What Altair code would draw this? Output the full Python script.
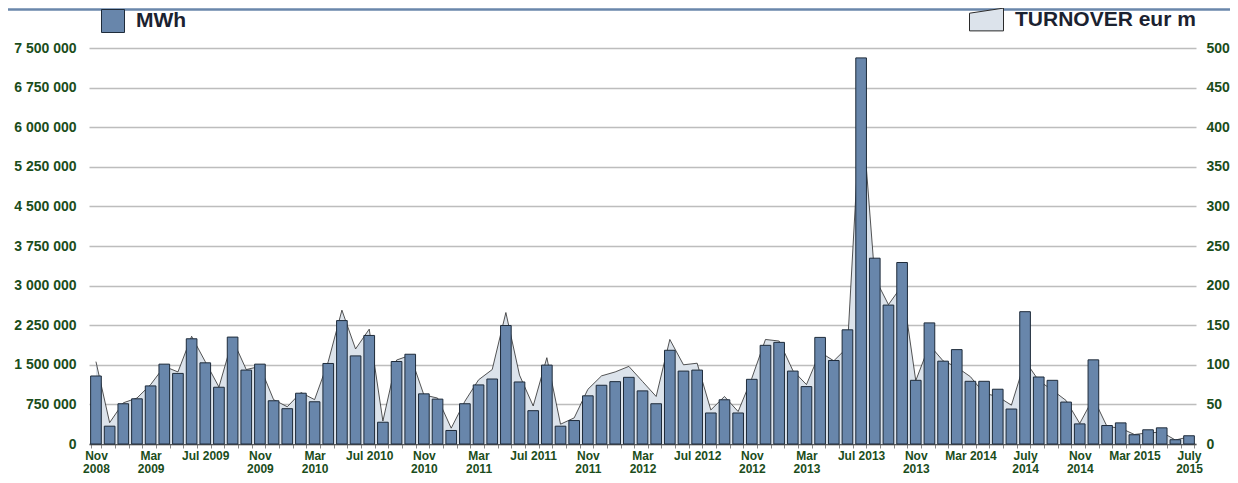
import altair as alt
import pandas as pd

months = [
    "Nov 2008", "Dec 2008",
    "Jan 2009", "Feb 2009", "Mar 2009", "Apr 2009", "May 2009", "Jun 2009",
    "Jul 2009", "Aug 2009", "Sep 2009", "Oct 2009", "Nov 2009", "Dec 2009",
    "Jan 2010", "Feb 2010", "Mar 2010", "Apr 2010", "May 2010", "Jun 2010",
    "Jul 2010", "Aug 2010", "Sep 2010", "Oct 2010", "Nov 2010", "Dec 2010",
    "Jan 2011", "Feb 2011", "Mar 2011", "Apr 2011", "May 2011", "Jun 2011",
    "Jul 2011", "Aug 2011", "Sep 2011", "Oct 2011", "Nov 2011", "Dec 2011",
    "Jan 2012", "Feb 2012", "Mar 2012", "Apr 2012", "May 2012", "Jun 2012",
    "Jul 2012", "Aug 2012", "Sep 2012", "Oct 2012", "Nov 2012", "Dec 2012",
    "Jan 2013", "Feb 2013", "Mar 2013", "Apr 2013", "May 2013", "Jun 2013",
    "Jul 2013", "Aug 2013", "Sep 2013", "Oct 2013", "Nov 2013", "Dec 2013",
    "Jan 2014", "Feb 2014", "Mar 2014", "Apr 2014", "May 2014", "Jun 2014",
    "Jul 2014", "Aug 2014", "Sep 2014", "Oct 2014", "Nov 2014", "Dec 2014",
    "Jan 2015", "Feb 2015", "Mar 2015", "Apr 2015", "May 2015", "Jun 2015",
    "Jul 2015",
]

mwh = [
    1288000, 337500,
    762500, 856000, 1100000, 1512500, 1337000, 1993000,
    1537500, 1075000, 2025000, 1400000, 1512500, 819000,
    669000, 962000, 800000, 1525000, 2337500, 1669000,
    2056000, 412500, 1562500, 1700000, 950000, 850000,
    256000, 762500, 1119000, 1231000, 2244000, 1175000,
    631000, 1494000, 337500, 444000, 912500, 1112500,
    1181000, 1262500, 1006000, 762500, 1775000, 1381000,
    1400000, 587500, 837500, 587500, 1225000, 1869000,
    1925000, 1381000, 1087500, 2019000, 1581000, 2162500,
    7312500, 3519000, 2631000, 3437500, 1206000, 2294000,
    1569000, 1787500, 1187500, 1187500, 1037500, 662500,
    2506000, 1269000, 1206000, 794000, 381000, 1594000,
    350000, 400000, 175000, 269000, 306000, 81000,
    156000,
]

turnover = [
    104, 27,
    52, 58, 75, 98, 91, 136,
    104, 72, 132, 94, 98, 56,
    47, 65, 56, 104, 169, 120,
    145, 29, 106, 112, 62, 58,
    20, 54, 81, 94, 166, 87,
    48, 109, 25, 33, 69, 86,
    91, 98, 79, 60, 132, 100,
    102, 43, 60, 41, 83, 132,
    130, 93, 75, 116, 105, 122,
    435, 210, 176, 200, 80, 125,
    105, 97, 85, 64, 60, 49,
    105, 80, 68, 55, 26, 58,
    22, 20, 12, 14, 15, 5,
    9,
]

tick_labels = {
    "Nov 2008": "Nov|2008", "Mar 2009": "Mar|2009", "Jul 2009": "Jul 2009",
    "Nov 2009": "Nov|2009", "Mar 2010": "Mar|2010", "Jul 2010": "Jul 2010",
    "Nov 2010": "Nov|2010", "Mar 2011": "Mar|2011", "Jul 2011": "Jul 2011",
    "Nov 2011": "Nov|2011", "Mar 2012": "Mar|2012", "Jul 2012": "Jul 2012",
    "Nov 2012": "Nov|2012", "Mar 2013": "Mar|2013", "Jul 2013": "Jul 2013",
    "Nov 2013": "Nov|2013", "Mar 2014": "Mar 2014", "Jul 2014": "July|2014",
    "Nov 2014": "Nov|2014", "Mar 2015": "Mar 2015", "Jul 2015": "July|2015",
}

bar_series = "MWh"
area_series = "TURNOVER eur m"

df = pd.DataFrame({
    "month": months,
    "mwh": mwh,
    "turnover": turnover,
    "s1": bar_series,
    "s2": area_series,
})

FONT = "Liberation Sans"
GREEN = "#1b4d1b"
BAR_FILL = "#6886ab"
BAR_STROKE = "#1e2b3a"
AREA_FILL = "#dce3eb"

expr = "''"
for k in reversed(list(tick_labels.keys())):
    expr = f"datum.value == '{k}' ? split('{tick_labels[k]}', '|') : ({expr})"

x_enc = alt.X(
    "month:O",
    sort=months,
    scale=alt.Scale(paddingInner=0.22, paddingOuter=0.12),
    axis=alt.Axis(
        title=None,
        labelExpr=expr,
        labelAngle=0,
        labelFont=FONT,
        labelFontSize=12,
        labelFontWeight="bold",
        labelColor=GREEN,
        labelLineHeight=13,
        labelPadding=2,
        labelOverlap=False,
        labelBound=False,
        tickBand="extent",
        tickSize=4,
        tickColor="#8a8a8a",
        domainColor="#555555",
        domainWidth=1.5,
        grid=False,
    ),
)

left_vals = [i * 750000 for i in range(11)]
right_vals = [i * 50 for i in range(11)]

area = alt.Chart(df).mark_area(opacity=1).encode(
    x=x_enc,
    y=alt.Y(
        "turnover:Q",
        scale=alt.Scale(domain=[0, 500], nice=False),
        axis=alt.Axis(
            orient="right",
            title=None,
            values=right_vals,
            grid=False,
            ticks=False,
            domain=False,
            labelFont=FONT,
            labelFontSize=14,
            labelFontWeight="bold",
            labelColor=GREEN,
            labelPadding=10,
        ),
    ),
    fill=alt.Fill(
        "s2:N",
        scale=alt.Scale(domain=[area_series], range=[AREA_FILL]),
        legend=alt.Legend(
            orient="none",
            legendX=880,
            legendY=-46,
            title=None,
            padding=0,
            symbolType="M-1,-0.37L1,-0.67L1,0.67L-1,0.67Z",
            symbolSize=1156,
            symbolStrokeColor="#2a2a2a",
            symbolStrokeWidth=1,
            labelOffset=11,
            labelFont=FONT,
            labelFontSize=21,
            labelFontWeight="bold",
            labelColor="#1b2230",
            labelLimit=400,
        ),
    ),
)

line = alt.Chart(df).mark_line(color="#2a2a2a", strokeWidth=0.8).encode(
    x=x_enc,
    y=alt.Y("turnover:Q", scale=alt.Scale(domain=[0, 500], nice=False), axis=None),
)

bars = alt.Chart(df).mark_bar(stroke=BAR_STROKE, strokeWidth=1).encode(
    x=x_enc,
    y=alt.Y(
        "mwh:Q",
        scale=alt.Scale(domain=[0, 7500000], nice=False),
        axis=alt.Axis(
            orient="left",
            title=None,
            values=left_vals,
            labelExpr="replace(format(datum.value, ','), regexp(',', 'g'), ' ')",
            grid=True,
            gridColor="#bdbdbd",
            gridWidth=1.5,
            ticks=False,
            domain=False,
            labelFont=FONT,
            labelFontSize=14,
            labelFontWeight="bold",
            labelColor=GREEN,
            labelPadding=13,
        ),
    ),
    color=alt.Color(
        "s1:N",
        scale=alt.Scale(domain=[bar_series], range=[BAR_FILL]),
        legend=alt.Legend(
            orient="none",
            legendX=12,
            legendY=-39,
            title=None,
            padding=0,
            symbolType="square",
            symbolSize=529,
            symbolStrokeColor=BAR_STROKE,
            symbolStrokeWidth=1,
            labelOffset=11,
            labelFont=FONT,
            labelFontSize=21,
            labelFontWeight="bold",
            labelColor="#1b2230",
        ),
    ),
)

top_rule = alt.Chart(df.iloc[:1]).mark_rule(color="#6a87ab", strokeWidth=2.5).encode(
    x=alt.value(-81), x2=alt.value(1141), y=alt.value(-38.5)
)

chart = alt.layer(area, line, bars, top_rule).resolve_scale(
    y="independent"
).properties(
    width=1107,
    height=396,
    autosize=alt.AutoSizeParams(type="none"),
    padding={"left": 81, "top": 40, "right": 34, "bottom": 31},
).configure_view(stroke=None)

chart.save("out.html", embed_options={"renderer": "svg", "actions": False})
